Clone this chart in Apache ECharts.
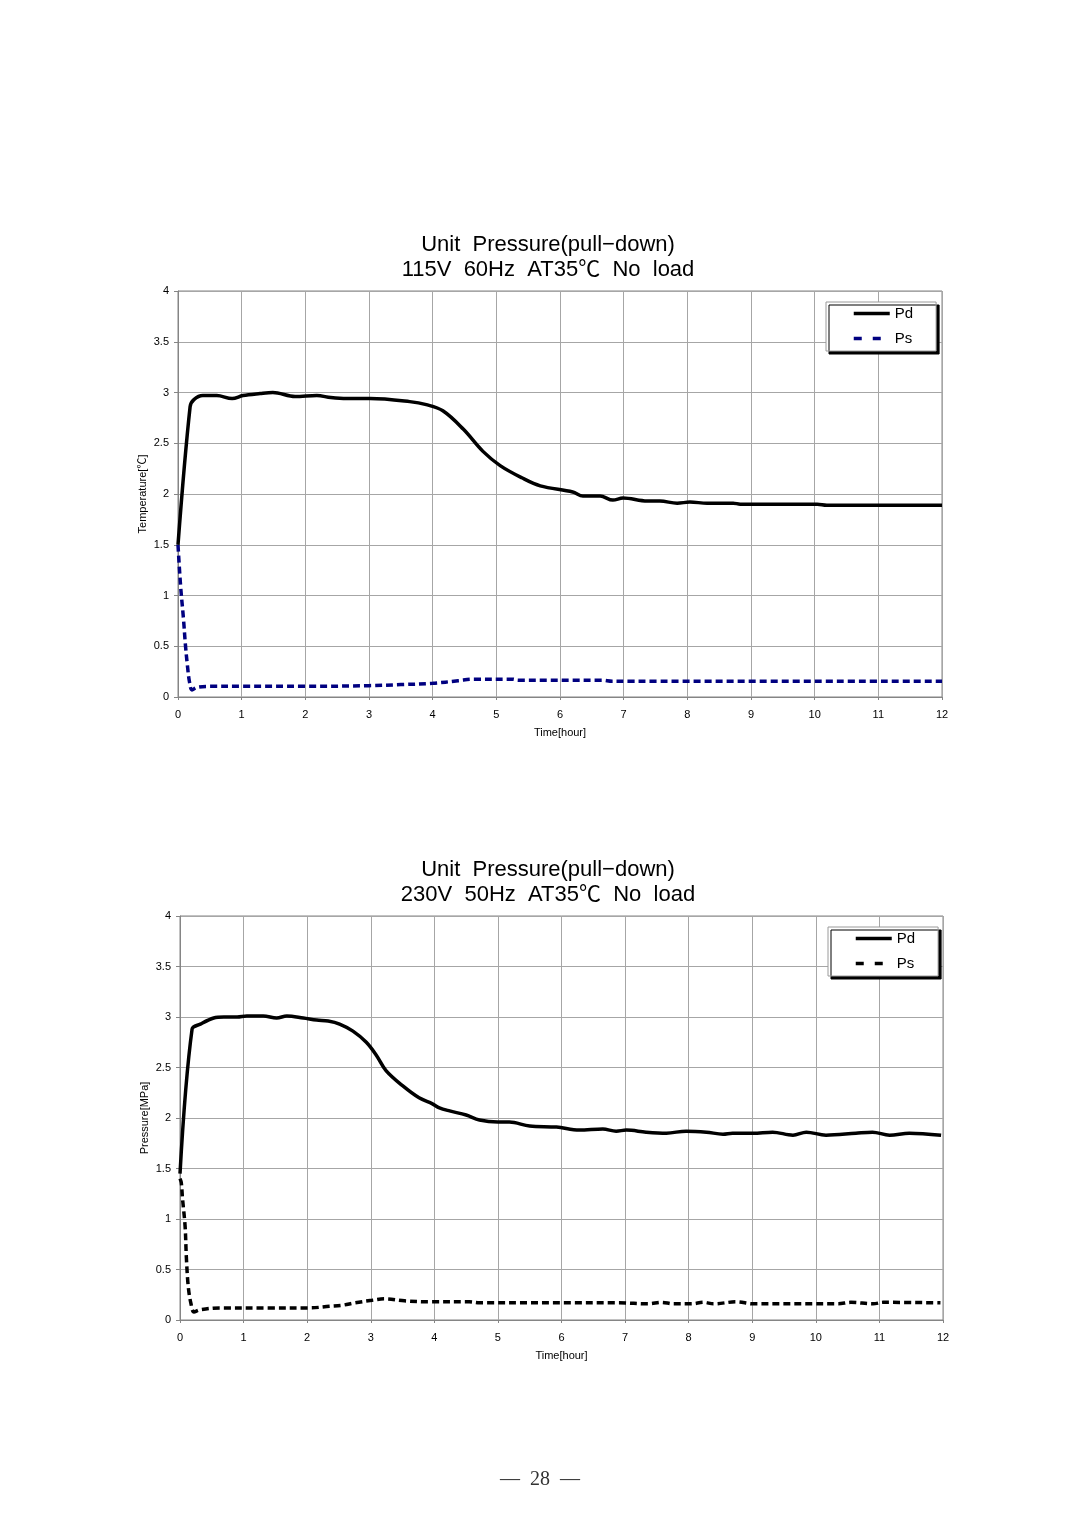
<!DOCTYPE html>
<html>
<head>
<meta charset="utf-8">
<script src="https://cdn.jsdelivr.net/npm/echarts@6/dist/echarts.min.js"></script>
<style>
  html, body { margin: 0; padding: 0; background: #fff; }
  #chart { width: 1080px; height: 1528px; }
</style>
</head>
<body>
<div id="chart"></div>
<script>
// ---------- data ----------
const title1 = 'Unit  Pressure(pull−down)\n115V  60Hz  AT35℃  No  load';
const title2 = 'Unit  Pressure(pull−down)\n230V  50Hz  AT35℃  No  load';
const yName1 = 'Temperature[℃]';
const yName2 = 'Pressure[MPa]';
const xName = 'Time[hour]';
const seriesNames = ['Pd', 'Ps'];
const pageNumber = '—  28  —';

// Chart 1 (115V 60Hz): [time hour, value]
const pd1 = [
  [0, 1.50], [0.19, 2.86], [0.25, 2.93], [0.39, 2.97], [0.61, 2.97],
  [0.85, 2.94], [1.02, 2.97], [1.29, 2.99], [1.49, 3.00], [1.84, 2.96], [2.18, 2.97],
  [2.40, 2.95], [2.65, 2.94], [3.02, 2.94], [3.64, 2.91], [3.90, 2.88], [4.16, 2.82],
  [4.48, 2.64], [4.79, 2.42], [5.06, 2.28], [5.40, 2.16], [5.69, 2.08], [6.20, 2.02],
  [6.36, 1.98], [6.63, 1.98], [6.83, 1.94], [6.99, 1.96], [7.37, 1.93], [7.57, 1.93],
  [7.84, 1.91], [8.04, 1.92], [8.31, 1.91], [8.72, 1.91], [8.83, 1.90], [10.04, 1.90],
  [10.19, 1.89], [12, 1.89]
];
const ps1 = [
  [0, 1.50], [0.04, 1.10], [0.086, 0.77], [0.117, 0.51], [0.148, 0.31], [0.18, 0.15],
  [0.22, 0.07], [0.30, 0.095], [0.50, 0.105], [1, 0.105], [2, 0.105], [3, 0.112],
  [3.5, 0.122], [4, 0.135], [4.4, 0.16], [4.63, 0.175], [5.26, 0.175], [5.34, 0.165],
  [6.66, 0.165], [6.82, 0.155], [12, 0.155]
];

// Chart 2 (230V 50Hz)
const pd2 = [
  [0, 1.45], [0.19, 2.88], [0.32, 2.93], [0.53, 2.99], [0.69, 3.00],
  [0.90, 3.00], [1.05, 3.01], [1.31, 3.01], [1.52, 2.99], [1.68, 3.01], [1.94, 2.99],
  [2.15, 2.97], [2.33, 2.96], [2.51, 2.93], [2.72, 2.86], [2.93, 2.75], [3.09, 2.62],
  [3.24, 2.47], [3.50, 2.32], [3.76, 2.20], [3.97, 2.14], [4.08, 2.10], [4.24, 2.07],
  [4.50, 2.03], [4.71, 1.98], [5.00, 1.96], [5.18, 1.96], [5.50, 1.92], [5.92, 1.91],
  [6.28, 1.88], [6.65, 1.89], [6.86, 1.87], [7.02, 1.88], [7.33, 1.86], [7.65, 1.85],
  [7.96, 1.87], [8.28, 1.86], [8.54, 1.84], [8.69, 1.85], [9.01, 1.85], [9.32, 1.86],
  [9.64, 1.83], [9.85, 1.86], [10.16, 1.83], [10.63, 1.85], [10.89, 1.86], [11.16, 1.83],
  [11.47, 1.85], [11.97, 1.83]
];
const ps2 = [
  [0, 1.40], [0.02, 1.36], [0.04, 1.20], [0.08, 0.93], [0.10, 0.62], [0.13, 0.33],
  [0.17, 0.17], [0.22, 0.08], [0.31, 0.10], [0.63, 0.12], [1.41, 0.12], [2.04, 0.12],
  [2.35, 0.136], [2.55, 0.146], [2.75, 0.17], [3.02, 0.195], [3.22, 0.21], [3.53, 0.19],
  [3.92, 0.18], [4.55, 0.18], [4.71, 0.17], [6.90, 0.17], [7.37, 0.16], [7.57, 0.175],
  [7.76, 0.16], [8.04, 0.16], [8.24, 0.175], [8.39, 0.16], [8.75, 0.18], [9.02, 0.16],
  [10.35, 0.16], [10.55, 0.175], [10.90, 0.16], [11.06, 0.175], [11.96, 0.17]
];

// ---------- chart ----------
const FONT = "'Liberation Sans', 'Noto Sans', sans-serif";
const TFONT = "'Liberation Sans', 'Noto Sans CJK JP', sans-serif";
const gridColor = '#a6a6a6';
const axisColor = '#858585';

function xAxisDef(gi) {
  return {
    type: 'value', gridIndex: gi, min: 0, max: 12, interval: 1,
    name: xName, nameLocation: 'middle', nameGap: 30,
    nameTextStyle: { fontSize: 11, color: '#000', fontFamily: TFONT },
    axisLine: { show: true, lineStyle: { color: axisColor, width: 1 } },
    axisTick: { show: true, length: 3, lineStyle: { color: axisColor } },
    axisLabel: { fontSize: 11, color: '#000', margin: 12, fontFamily: FONT },
    splitLine: { show: true, lineStyle: { color: gridColor, width: 1 } }
  };
}
function yAxisDef(gi, name) {
  return {
    type: 'value', gridIndex: gi, min: 0, max: 4, interval: 0.5,
    name: name, nameLocation: 'middle', nameGap: 30, nameRotate: 90,
    nameMoveOverlap: false,
    nameTextStyle: { fontSize: 11, color: '#000', fontFamily: TFONT },
    axisLine: { show: true, lineStyle: { color: axisColor, width: 1 } },
    axisTick: { show: true, length: 4, lineStyle: { color: axisColor } },
    axisLabel: { fontSize: 11, color: '#000', margin: 9, fontFamily: FONT },
    splitLine: { show: true, lineStyle: { color: gridColor, width: 1 } }
  };
}
function legendDef(gi, left, top) {
  const suffix = gi === 0 ? '' : ' ';
  return {
    orient: 'vertical', left: left, top: top,
    data: [
      { name: seriesNames[0] + suffix, lineStyle: { width: 3.5, type: 'solid' } },
      { name: seriesNames[1] + suffix, lineStyle: { width: 3.5, type: [8, 11] } }
    ],
    formatter: (n) => n.trim(),
    backgroundColor: '#fff', borderColor: '#9a9a9a', borderWidth: 1,
    shadowColor: '#000', shadowBlur: 0, shadowOffsetX: 3, shadowOffsetY: 3,
    padding: [4, 23, 5, 26], itemWidth: 36, itemHeight: 14, itemGap: 10,
    itemStyle: { opacity: 0, borderWidth: 0 },
    lineStyle: { width: 3.5 },
    textStyle: { fontSize: 15, color: '#000', fontFamily: FONT },
    selectedMode: false
  };
}
function lineSeries(name, data, gi, color, dashed) {
  return {
    name: name, type: 'line', xAxisIndex: gi, yAxisIndex: gi, data: data,
    symbol: 'none', smooth: 0.35,
    lineStyle: { color: color, width: 3.5, type: dashed ? [7, 4] : 'solid' },
    itemStyle: { color: color },
    z: dashed ? 3 : 4
  };
}
function titleText(text, y) {
  return {
    type: 'text', x: 548, y: y, z: 10,
    style: { text: text, fontSize: 22, lineHeight: 25, fill: '#000', fontFamily: TFONT,
             textAlign: 'center', textVerticalAlign: 'top' }
  };
}

const chart = echarts.init(document.getElementById('chart'), null, { renderer: 'canvas' });
chart.setOption({
  backgroundColor: '#fff',
  animation: false,
  legend: [legendDef(0, 826, 302), legendDef(1, 828, 927)],
  grid: [
    { left: 178, top: 291, width: 764, height: 406, show: true, borderColor: axisColor, borderWidth: 1, backgroundColor: 'transparent' },
    { left: 180, top: 916, width: 763, height: 404, show: true, borderColor: axisColor, borderWidth: 1, backgroundColor: 'transparent' }
  ],
  xAxis: [xAxisDef(0), xAxisDef(1)],
  yAxis: [yAxisDef(0, yName1), yAxisDef(1, yName2)],
  series: [
    lineSeries(seriesNames[0], pd1, 0, '#000', false),
    lineSeries(seriesNames[1], ps1, 0, '#000080', true),
    lineSeries(seriesNames[0] + ' ', pd2, 1, '#000', false),
    lineSeries(seriesNames[1] + ' ', ps2, 1, '#000', true)
  ],
  graphic: [
    titleText(title1, 232.5),
    titleText(title2, 857.5),
    { type: 'text', x: 540, y: 1480, style: { text: pageNumber, fontSize: 20, fill: '#333', fontFamily: "'Liberation Serif', serif", textAlign: 'center', textVerticalAlign: 'middle' } }
  ]
});
</script>
</body>
</html>
